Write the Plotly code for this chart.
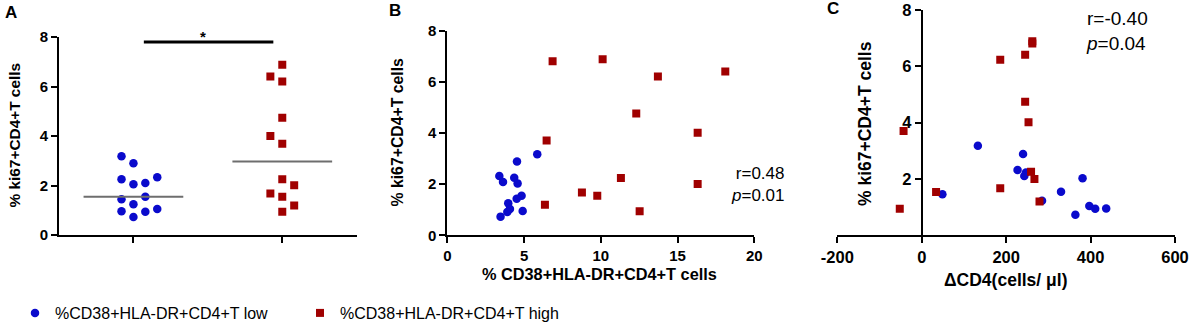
import numpy as np
import plotly.graph_objects as go

# ---------------- data ----------------
# Panel A: %ki67+CD4+T cells by group (x = jittered category position)
a_low_x = [-0.08, 0.0, -0.08, 0.0, 0.08, 0.16, -0.08, 0.08, 0.0, -0.08, 0.08, 0.16, 0.0]
a_low_y = [3.18, 2.90, 2.25, 2.05, 2.10, 2.33, 1.44, 1.55, 1.24, 0.96, 0.94, 1.05, 0.73]
a_high_x = [1.0, 0.92, 1.0, 1.0, 0.92, 1.0, 1.0, 1.08, 0.92, 1.0, 1.08, 1.0]
a_high_y = [6.88, 6.40, 6.20, 4.74, 4.00, 3.69, 2.25, 2.01, 1.68, 1.55, 1.19, 0.94]

# Panel B: %CD38+HLA-DR+CD4+T cells vs %ki67+CD4+T cells
b_low_x = [5.86, 4.54, 3.39, 3.63, 4.36, 4.58, 4.84, 4.52, 3.97, 4.08, 3.91, 4.91, 3.47]
b_low_y = [3.17, 2.89, 2.32, 2.08, 2.25, 2.03, 1.55, 1.43, 1.25, 1.03, 0.91, 0.95, 0.73]
b_high_x = [6.86, 10.12, 13.72, 18.11, 12.31, 16.31, 6.47, 11.31, 16.31, 8.77, 9.77, 6.36, 12.53]
b_high_y = [6.81, 6.88, 6.21, 6.40, 4.76, 4.01, 3.71, 2.24, 2.01, 1.67, 1.55, 1.19, 0.94]

# Panel C: delta CD4 (cells/ul) vs %ki67+CD4+T cells
c_low_x = [133, 240, 227, 247, 243, 285, 330, 381, 364, 397, 411, 437, 49]
c_low_y = [3.17, 2.88, 2.31, 2.22, 2.10, 1.22, 1.54, 2.02, 0.72, 1.03, 0.93, 0.94, 1.45]
c_high_x = [262, 262, 245, 186, 245, 253, -43, 259, 267, 186, 34, 279, -52]
c_high_y = [6.81, 6.89, 6.41, 6.23, 4.74, 4.01, 3.70, 2.25, 1.99, 1.66, 1.53, 1.19, 0.93]

group_names = ["%CD38+HLA-DR+CD4+T low", "%CD38+HLA-DR+CD4+T high"]
y_ticks = [0, 2, 4, 6, 8]
c_y_ticks = [2, 4, 6, 8]
b_x_ticks = [0, 5, 10, 15, 20]
c_x_ticks = [-200, 0, 200, 400, 600]
c_x_ticktext = ["-200", "0", "200", "400", "600"]
sig_bar_x = [0.07, 0.94]
sig_bar_y = 7.8
b_stats = "r=0.48<br><i>p</i>=0.01"
c_stats = "r=-0.40<br><i>p</i>=0.04"

# ---------------- style ----------------
W, H = 1192, 326
BLUE = "#0a0acc"
RED = "#a00000"
FONT = "Arial, 'Liberation Sans', sans-serif"


def px_x(p):
    return p / W


def px_y(p):
    return 1 - p / H


fig = go.Figure()

low_marker = dict(symbol="circle", size=8.5, color=BLUE, line=dict(width=0))
high_marker = dict(symbol="square", size=8, color=RED, line=dict(width=0))

# Panel A
fig.add_trace(go.Scatter(x=a_low_x, y=a_low_y, mode="markers", marker=low_marker,
                         name=group_names[0], legend="legend", xaxis="x", yaxis="y"))
fig.add_trace(go.Scatter(x=a_high_x, y=a_high_y, mode="markers", marker=high_marker,
                         name=group_names[1], legend="legend2", xaxis="x", yaxis="y"))
for cx, vals in [(0, a_low_y), (1, a_high_y)]:
    m = float(np.median(vals))
    fig.add_trace(go.Scatter(x=[cx - 0.335, cx + 0.335], y=[m, m], mode="lines",
                             line=dict(color="#6e6e6e", width=2), showlegend=False,
                             xaxis="x", yaxis="y", hoverinfo="skip"))
fig.add_trace(go.Scatter(x=sig_bar_x, y=[sig_bar_y, sig_bar_y], mode="lines",
                         line=dict(color="black", width=3), showlegend=False,
                         cliponaxis=False, xaxis="x", yaxis="y", hoverinfo="skip"))

# Panel B
fig.add_trace(go.Scatter(x=b_low_x, y=b_low_y, mode="markers", marker=low_marker,
                         showlegend=False, xaxis="x2", yaxis="y2"))
fig.add_trace(go.Scatter(x=b_high_x, y=b_high_y, mode="markers", marker=high_marker,
                         showlegend=False, xaxis="x2", yaxis="y2"))

# Panel C
fig.add_trace(go.Scatter(x=c_low_x, y=c_low_y, mode="markers", marker=low_marker,
                         showlegend=False, xaxis="x3", yaxis="y3"))
fig.add_trace(go.Scatter(x=c_high_x, y=c_high_y, mode="markers", marker=high_marker,
                         showlegend=False, xaxis="x3", yaxis="y3"))

axis_common = dict(showgrid=False, zeroline=False, showline=True, linecolor="black",
                   linewidth=2, ticks="outside", ticklen=6, tickwidth=2, tickcolor="black")
tick_font = dict(family=FONT, size=15, color="black", weight="bold")
tick_font_c = dict(family=FONT, size=16.5, color="black", weight="bold")

fig.update_layout(
    width=W, height=H,
    margin=dict(l=0, r=0, t=0, b=0, autoexpand=False),
    paper_bgcolor="white", plot_bgcolor="rgba(0,0,0,0)",
    xaxis=dict(domain=[px_x(59), px_x(356.7)], range=[-0.5, 1.5], anchor="y",
               tickvals=[0, 1], showticklabels=False, **axis_common),
    yaxis=dict(domain=[px_y(235), px_y(37)], range=[0, 8], anchor="x",
               tickvals=y_ticks, tickfont=tick_font, **axis_common),
    xaxis2=dict(domain=[px_x(447.3), px_x(754.3)], range=[0, 20], anchor="y2",
                tickvals=b_x_ticks, tickfont=tick_font, **axis_common),
    yaxis2=dict(domain=[px_y(235.3), px_y(30.7)], range=[0, 8], anchor="x2",
                tickvals=y_ticks, tickfont=tick_font, **axis_common),
    xaxis3=dict(domain=[px_x(837.3), px_x(1175)], range=[-200, 600], anchor="y3",
                tickvals=c_x_ticks, ticktext=c_x_ticktext, tickfont=tick_font_c, **axis_common),
    yaxis3=dict(domain=[px_y(235), px_y(10)], range=[0, 8], anchor="free",
                position=px_x(921.7),
                tickvals=c_y_ticks, tickfont=tick_font_c, **axis_common),
    legend=dict(orientation="h", x=px_x(15), y=px_y(313), xanchor="left", yanchor="middle",
                font=dict(family=FONT, size=16, color="black"), bgcolor="rgba(0,0,0,0)"),
    legend2=dict(orientation="h", x=px_x(300), y=px_y(313), xanchor="left", yanchor="middle",
                 font=dict(family=FONT, size=16, color="black"), bgcolor="rgba(0,0,0,0)"),
    showlegend=True,
)

ann = []


def add_text(text, x, y, size, bold=True, angle=0, xanchor="center", yanchor="middle",
             align="center"):
    ann.append(dict(text=text, x=x, y=y, xref="paper", yref="paper", showarrow=False,
                    textangle=angle, xanchor=xanchor, yanchor=yanchor, align=align,
                    font=dict(family=FONT, size=size, color="black",
                              weight="bold" if bold else "normal")))


# panel letters
add_text("A", px_x(10.5), px_y(12), 17)
add_text("B", px_x(395), px_y(10), 17)
add_text("C", px_x(833), px_y(9), 17)
# axis titles
add_text("% ki67+CD4+T cells", px_x(14), px_y(135.5), 15.4, angle=-90)
add_text("% ki67+CD4+T cells", px_x(397), px_y(132.5), 15.8, angle=-90)
add_text("% CD38+HLA-DR+CD4+T cells", px_x(599), px_y(274), 16.3)
add_text("% ki67+CD4+T cells", px_x(865), px_y(124), 17.5, angle=-90)
add_text("ΔCD4(cells/ μl)", px_x(1005), px_y(280), 17.5)
# significance star
add_text("*", px_x(203), px_y(36), 15)
# stats
add_text(b_stats, px_x(786), px_y(184.5), 17, bold=False, xanchor="right", align="right")
add_text(c_stats, px_x(1084), px_y(31), 19, bold=False, xanchor="left", align="left")

fig.update_layout(annotations=ann)

fig.write_html("out.html", config={"displayModeBar": False},
               post_script="document.body.style.margin='0';document.body.style.padding='0';")
